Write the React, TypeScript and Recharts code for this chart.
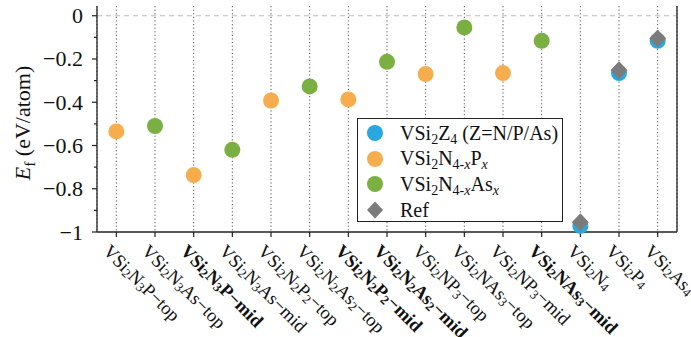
import { ScatterChart, Scatter, XAxis, YAxis, CartesianGrid, ReferenceLine } from "recharts";

const FONT = "'Liberation Serif', 'Times New Roman', serif";

const categories = [
  "VSi_2N_3P−top",
  "VSi_2N_3As−top",
  "VSi_2N_3P−mid",
  "VSi_2N_3As−mid",
  "VSi_2N_2P_2−top",
  "VSi_2N_2As_2−top",
  "VSi_2N_2P_2−mid",
  "VSi_2N_2As_2−mid",
  "VSi_2NP_3−top",
  "VSi_2NAs_3−top",
  "VSi_2NP_3−mid",
  "VSi_2NAs_3−mid",
  "VSi_2N_4",
  "VSi_2P_4",
  "VSi_2As_4",
];
const boldLabels = [false, false, true, false, false, false, true, true, false, false, false, true, false, false, false];

// formation energies (eV/atom), null where the series has no point
const pValues = [-0.535, null, -0.737, null, -0.392, null, -0.387, null, -0.27, null, -0.265, null, null, null, null];
const asValues = [null, -0.51, null, -0.62, null, -0.327, null, -0.213, null, -0.054, null, -0.116, null, null, null];
const pureValues = [null, null, null, null, null, null, null, null, null, null, null, null, -0.972, -0.265, -0.116];
const refValues = [null, null, null, null, null, null, null, null, null, null, null, null, -0.955, -0.252, -0.105];

const yTicks = [0, -0.1, -0.2, -0.3, -0.4, -0.5, -0.6, -0.7, -0.8, -0.9, -1];
const xTicks = categories.map((_, i) => i);

const BLUE = "#29a8e0";
const ORANGE = "#f6ad4d";
const GREEN = "#7ab042";
const GREY = "#7b7b7b";
const AXIS = "#222";

const toPoints = (vals: (number | null)[]) =>
  vals.map((v, i) => ({ i, v })).filter((d) => d.v !== null);

function subParts(label: string, size: number) {
  const parts = label.split(/(_\d)/).filter(Boolean);
  const shift = size * 0.28;
  let down = false;
  return parts.map((p, k) => {
    if (p[0] === "_") {
      down = true;
      return (
        <tspan key={k} dy={shift} fontSize={size * 0.7}>
          {p.slice(1)}
        </tspan>
      );
    }
    const dy = down ? -shift : 0;
    down = false;
    return (
      <tspan key={k} dy={dy}>
        {p}
      </tspan>
    );
  });
}

function CategoryTick({ x, y, payload }: any) {
  const i = payload.value as number;
  return (
    <g transform={`translate(${x - 5},${y + 6}) rotate(45)`}>
      <text
        fontFamily={FONT}
        fontSize={18.5}
        fill="#111"
        fontWeight={boldLabels[i] ? "bold" : "normal"}
        dominantBaseline="hanging"
      >
        {subParts(categories[i], 18.5)}
      </text>
    </g>
  );
}

const fmt = (v: number) => (v === 0 ? "0" : "−" + (Math.abs(v) === 1 ? "1" : Math.abs(v).toFixed(1)));
const isMajor = (v: number) => Math.round(Math.abs(v) * 10) % 2 === 0;

function LeftTick({ x, y, payload }: any) {
  const v = payload.value as number;
  const major = isMajor(v);
  return (
    <g>
      <line x1={x} x2={x - (major ? 5 : 3)} y1={y} y2={y} stroke={AXIS} strokeWidth={1.2} />
      {major && (
        <text x={x - 14} y={y} textAnchor="end" dominantBaseline="central" fontFamily={FONT} fontSize={22} fill="#111">
          {fmt(v)}
        </text>
      )}
    </g>
  );
}

function RightTick({ x, y, payload }: any) {
  const major = isMajor(payload.value);
  return <line x1={x} x2={x + (major ? 5 : 3)} y1={y} y2={y} stroke={AXIS} strokeWidth={1.2} />;
}

const circle = (color: string) => (p: any) =>
  p.cx == null || p.cy == null ? <g /> : <circle cx={p.cx} cy={p.cy} r={8} fill={color} />;

const diamond = (p: any) =>
  p.cx == null || p.cy == null ? (
    <g />
  ) : (
    <polygon
      points={`${p.cx},${p.cy - 9} ${p.cx + 8.5},${p.cy} ${p.cx},${p.cy + 9} ${p.cx - 8.5},${p.cy}`}
      fill={GREY}
    />
  );

function YLabel() {
  return (
    <text transform="translate(30,123) rotate(-90)" textAnchor="middle" fontFamily={FONT} fontSize={22} fill="#111">
      <tspan fontStyle="italic">E</tspan>
      <tspan dy={5} fontSize={15.5}>f</tspan>
      <tspan dy={-5}> (eV/atom)</tspan>
    </text>
  );
}

const legendRows = [
  { key: "pure", marker: "circle", color: BLUE },
  { key: "p", marker: "circle", color: ORANGE },
  { key: "as", marker: "circle", color: GREEN },
  { key: "ref", marker: "diamond", color: GREY },
];

const subStyle = { fontSize: "0.7em", verticalAlign: "-0.3em", lineHeight: 0 } as const;

function legendText(key: string) {
  if (key === "pure")
    return (
      <>
        VSi<sub style={subStyle}>2</sub>Z<sub style={subStyle}>4</sub> (Z=N/P/As)
      </>
    );
  if (key === "p")
    return (
      <>
        VSi<sub style={subStyle}>2</sub>N
        <sub style={subStyle}>
          4-<i>x</i>
        </sub>
        P
        <sub style={subStyle}>
          <i>x</i>
        </sub>
      </>
    );
  if (key === "as")
    return (
      <>
        VSi<sub style={subStyle}>2</sub>N
        <sub style={subStyle}>
          4-<i>x</i>
        </sub>
        As
        <sub style={subStyle}>
          <i>x</i>
        </sub>
      </>
    );
  return <>Ref</>;
}

function ChartLegend() {
  return (
    <div
      style={{
        position: "absolute",
        left: 357,
        top: 118,
        width: 206,
        height: 104,
        boxSizing: "border-box",
        border: `1.3px solid ${AXIS}`,
        background: "#fff",
        fontFamily: FONT,
        fontSize: 20,
        color: "#111",
      }}
    >
      {legendRows.map((r, k) => (
        <div
          key={r.key}
          style={{
            position: "absolute",
            left: 0,
            top: 1 + k * 25.7,
            height: 26,
            display: "flex",
            alignItems: "center",
            whiteSpace: "nowrap",
          }}
        >
          <svg width={42} height={26} style={{ flex: "none" }}>
            {r.marker === "circle" ? (
              <circle cx={17} cy={13} r={8} fill={r.color} />
            ) : (
              <polygon points="17,4.5 25,13 17,21.5 9,13" fill={r.color} />
            )}
          </svg>
          <span>{legendText(r.key)}</span>
        </div>
      ))}
    </div>
  );
}

export default function App() {
  return (
    <div style={{ position: "absolute", left: 0, top: 0, width: 691, height: 337, background: "#fff" }}>
      <ScatterChart width={691} height={337} margin={{ top: 6, right: 0, bottom: 0, left: 0 }}>
        <CartesianGrid horizontal={false} stroke="#555" strokeDasharray="1.2 2.4" />
        <XAxis
          type="number"
          dataKey="i"
          domain={[-0.5, 14.5]}
          ticks={xTicks}
          interval={0}
          height={105}
          tick={<CategoryTick />}
          tickSize={5}
          tickMargin={0}
          tickLine={{ stroke: AXIS, strokeWidth: 1.2 }}
          axisLine={{ stroke: AXIS, strokeWidth: 1.3 }}
        />
        <XAxis
          xAxisId="top"
          orientation="top"
          type="number"
          domain={[-0.5, 14.5]}
          height={0}
          tick={false}
          tickLine={false}
          axisLine={{ stroke: AXIS, strokeWidth: 1.3 }}
        />
        <YAxis
          type="number"
          dataKey="v"
          domain={[-1, 0.045]}
          ticks={yTicks}
          interval={0}
          width={97}
          tick={<LeftTick />}
          tickSize={0}
          tickMargin={0}
          tickLine={false}
          axisLine={{ stroke: AXIS, strokeWidth: 1.3 }}
          label={<YLabel />}
        />
        <YAxis
          yAxisId="right"
          orientation="right"
          type="number"
          domain={[-1, 0.045]}
          ticks={yTicks}
          interval={0}
          width={14}
          tick={<RightTick />}
          tickSize={0}
          tickMargin={0}
          tickLine={false}
          axisLine={{ stroke: AXIS, strokeWidth: 1.3 }}
        />
        <ReferenceLine y={0} stroke="#bdbdbd" strokeDasharray="5 4" strokeWidth={1.2} />
        <Scatter name="p" data={toPoints(pValues)} shape={circle(ORANGE)} isAnimationActive={false} />
        <Scatter name="as" data={toPoints(asValues)} shape={circle(GREEN)} isAnimationActive={false} />
        <Scatter name="pure" data={toPoints(pureValues)} shape={circle(BLUE)} isAnimationActive={false} />
        <Scatter name="ref" data={toPoints(refValues)} shape={diamond} isAnimationActive={false} />
      </ScatterChart>
      <ChartLegend />
    </div>
  );
}
